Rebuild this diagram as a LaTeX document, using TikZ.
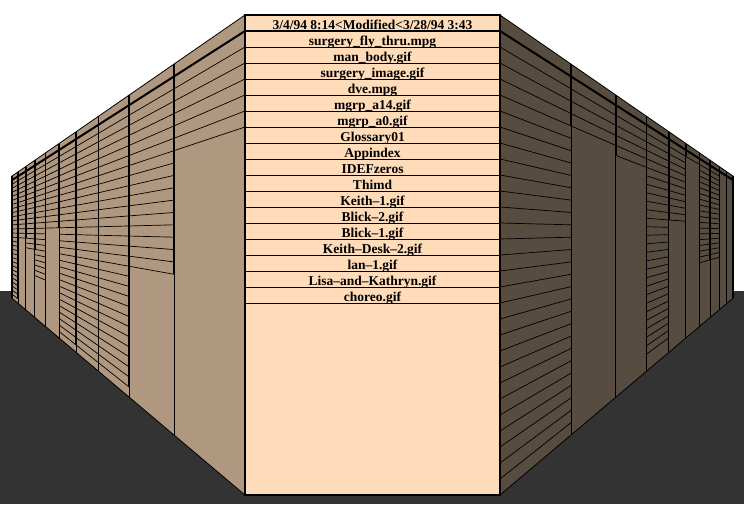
\documentclass[tikz,border=0pt]{standalone}
\usepackage{fontspec}
\setmainfont{Liberation Serif}
\definecolor{leftwall}{RGB}{176,152,128}
\definecolor{rightwall}{RGB}{87,76,64}
\definecolor{listface}{RGB}{255,220,185}
\definecolor{floorgray}{RGB}{51,51,51}
% point on a side wall: side (-1 left, 1 right), panel index, height
\newcommand{\wpt}[3]{({372.5+(#1)*(440-312.5/(1+0.294*(#2)))},{231+((#3)-231)/(1+0.294*(#2))})}
\tikzset{
  rowline/.style={black, line width=0.7pt},
  panelline/.style={black, line width=1pt},
  edgeline/.style={black, line width=1.8pt},
  filename/.style={anchor=base, inner sep=0pt, font=\fontsize{13.5}{13.5}\selectfont\bfseries}
}
\begin{document}
\begin{tikzpicture}[x=1pt, y=-1pt]
                \useasboundingbox (0,0) rectangle (744,504);
                % Floor
                \fill[floorgray] (0,291) rectangle (744,504);
                % Side walls
                \foreach \s/\c in {-1/leftwall, 1/rightwall}
                    \filldraw[fill=\c, draw=black, line width=0.8pt] \wpt{\s}{0}{15} -- \wpt{\s}{10}{15} -- \wpt{\s}{10}{495} -- \wpt{\s}{0}{495} -- cycle;
                % Rows of the left wall
                \foreach \n/\r in {0/6, 1/16, 2/28, 3/28, 4/28, 5/12, 6/21, 7/16, 8/14, 9/28} {
                    \foreach \j in {1,...,\r}
                        \draw[rowline] \wpt{-1}{\n}{31+16*\j} -- \wpt{-1}{\n+1}{31+16*\j};
                    \draw[edgeline] \wpt{-1}{\n}{15} -- \wpt{-1}{\n}{31+16*\r};
                }
                % Rows of the right wall
                \foreach \n/\r in {0/28, 1/4, 2/5, 3/27, 4/11, 5/1, 6/18, 7/18} {
                    \foreach \j in {1,...,\r}
                        \draw[rowline] \wpt{1}{\n}{31+16*\j} -- \wpt{1}{\n+1}{31+16*\j};
                    \draw[edgeline] \wpt{1}{\n}{15} -- \wpt{1}{\n}{31+16*\r};
                }
                % Panel edges and headers
                \foreach \s in {-1,1} {
                    \foreach \n in {1,...,9}
                        \draw[panelline] \wpt{\s}{\n}{15} -- \wpt{\s}{\n}{495};
                    \draw[edgeline] \wpt{\s}{10}{15} -- \wpt{\s}{10}{495};
                    \draw[black, line width=2pt] \wpt{\s}{0}{31} -- \wpt{\s}{10}{31};
                }
                % Front list
                \filldraw[fill=listface, draw=black, line width=2pt] (245,15) rectangle (500,495);
                \draw[black, line width=2.5pt] (245,31) -- (500,31);
                \foreach \j in {1,...,17}
                    \draw[rowline] (245,{31+16*\j}) -- (500,{31+16*\j});
                \node[filename] (head) at (372.5,29) {3/4/94 8:14<Modified<3/28/94 3:43};
                \foreach \i/\t in {1/surgery\_fly\_thru.mpg, 2/man\_body.gif, 3/surgery\_image.gif, 4/dve.mpg,
                    5/mgrp\_a14.gif, 6/mgrp\_a0.gif, 7/Glossary01, 8/Appindex, 9/IDEFzeros, 10/Thimd,
                    11/Keith–1.gif, 12/Blick–2.gif, 13/Blick–1.gif, 14/Keith–Desk–2.gif, 15/lan–1.gif,
                    16/Lisa–and–Kathryn.gif, 17/choreo.gif}
                    \node[filename] (file\i) at (372.5,{29.5+16*\i}) {\t};
            \end{tikzpicture}
\end{document}
